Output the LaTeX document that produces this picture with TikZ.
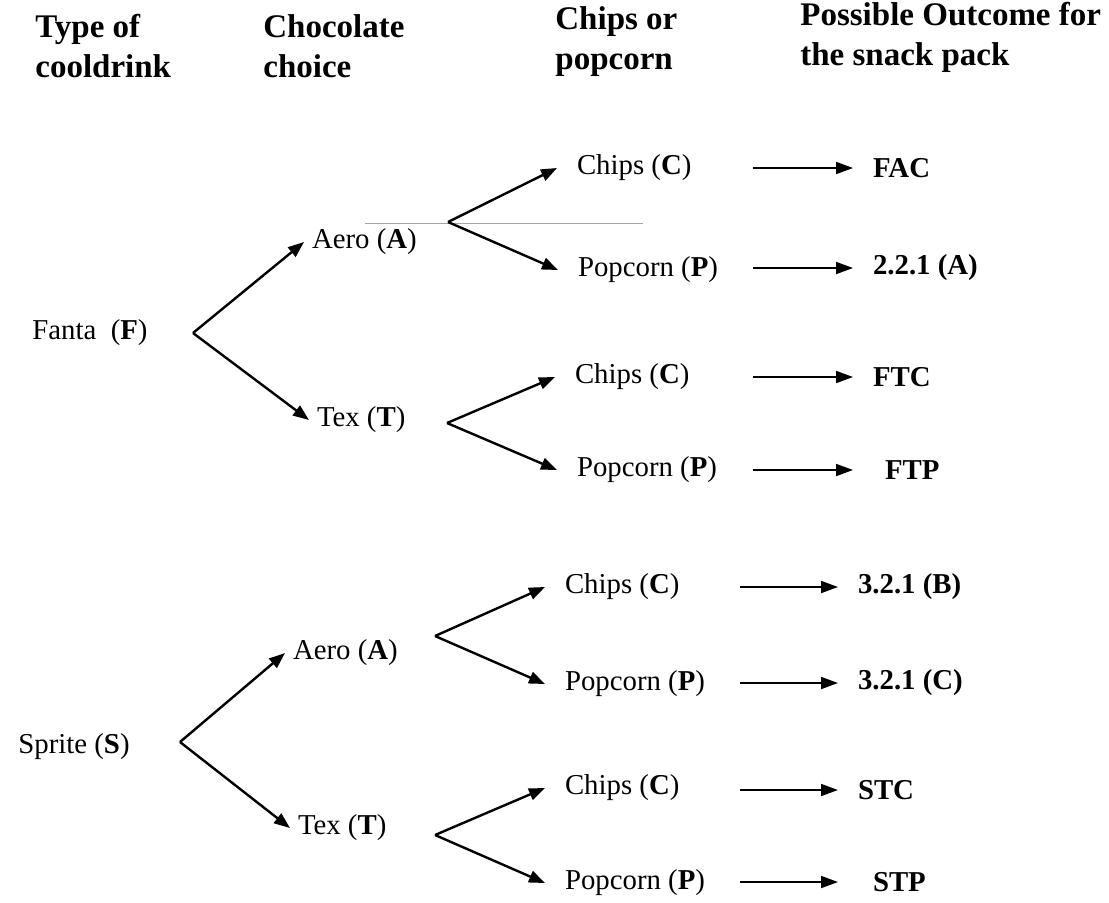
\documentclass[tikz,border=0pt]{standalone}
\usepackage{fontspec}
\setmainfont{Liberation Serif}
\usetikzlibrary{arrows.meta}

\begin{document}
\fontsize{14.4}{17}\selectfont
\begin{tikzpicture}[x=0.5pt,y=-0.5pt,
  head/.style={anchor=north west,align=left,inner sep=0pt,font=\fontsize{16.5}{20}\selectfont\bfseries},
  drink/.style={anchor=west,inner sep=0pt},
  choc/.style={anchor=west,inner sep=0pt,outer sep=4pt},
  snack/.style={anchor=west,inner sep=0pt,outer sep=10pt},
  outc/.style={anchor=west,inner sep=0pt,outer sep=10pt,font=\bfseries},
  branch/.style={line width=1.2pt,-{Triangle[length=8pt,width=6pt]}},
  result/.style={line width=0.9pt,-{Triangle[length=8.5pt,width=6pt]}}]
\useasboundingbox (0,0) rectangle (1109,902);
\node[head] (hdrink) at (35,14) {Type of\\cooldrink};
\node[head] (hchoc) at (263,14) {Chocolate\\choice};
\node[head] (hsnack) at (555,6) {Chips or\\popcorn};
\node[head] (hout) at (800,2) {Possible Outcome for\\the snack pack};
\draw[gray!70,line width=0.5pt] (365,223) -- (643,223);
\node[drink] (F) at (32,333) {Fanta\ \ (\textbf{F})};
\coordinate (bF) at (193,333);
\node[choc] (FA) at (304,242) {Aero (\textbf{A})};
\node[choc] (FT) at (309,420) {Tex (\textbf{T})};
\coordinate (bFA) at (448,222);
\coordinate (bFT) at (447,423);
\node[snack] (FAC) at (557,168) {Chips (\textbf{C})};
\node[snack] (FAP) at (558,270) {Popcorn (\textbf{P})};
\node[snack] (FTC) at (555,377) {Chips (\textbf{C})};
\node[snack] (FTP) at (557,470) {Popcorn (\textbf{P})};
\draw[branch] (bF) -- (FA.west);
\draw[branch] (bF) -- (FT.west);
\draw[branch] (bFA) -- (FAC.west);
\draw[branch] (bFA) -- (FAP.west);
\draw[branch] (bFT) -- (FTC.west);
\draw[branch] (bFT) -- (FTP.west);
\coordinate (sFAC) at (753,168);
\coordinate (sFAP) at (753,268);
\coordinate (sFTC) at (753,377);
\coordinate (sFTP) at (753,470);
\node[outc] (oFAC) at (853,168) {FAC};
\node[outc] (oFAP) at (853,268) {2.2.1 (A)};
\node[outc] (oFTC) at (853,377) {FTC};
\node[outc,outer xsep=16pt] (oFTP) at (853,470) {FTP};
\draw[result] (sFAC) -- (oFAC.west);
\draw[result] (sFAP) -- (oFAP.west);
\draw[result] (sFTC) -- (oFTC.west);
\draw[result] (sFTP) -- (oFTP.west);
\node[drink] (S) at (18,747) {Sprite (\textbf{S})};
\coordinate (bS) at (180,742);
\node[choc] (SA) at (285,653) {Aero (\textbf{A})};
\node[choc] (ST) at (290,828) {Tex (\textbf{T})};
\coordinate (bSA) at (435,636);
\coordinate (bST) at (435,835);
\node[snack] (SAC) at (545,587) {Chips (\textbf{C})};
\node[snack] (SAP) at (545,684) {Popcorn (\textbf{P})};
\node[snack] (STC) at (545,788) {Chips (\textbf{C})};
\node[snack] (STP) at (545,883) {Popcorn (\textbf{P})};
\draw[branch] (bS) -- (SA.west);
\draw[branch] (bS) -- (ST.west);
\draw[branch] (bSA) -- (SAC.west);
\draw[branch] (bSA) -- (SAP.west);
\draw[branch] (bST) -- (STC.west);
\draw[branch] (bST) -- (STP.west);
\coordinate (sSAC) at (740,587);
\coordinate (sSAP) at (740,683);
\coordinate (sSTC) at (740,790);
\coordinate (sSTP) at (740,882);
\node[outc] (oSAC) at (838,587) {3.2.1 (B)};
\node[outc] (oSAP) at (838,683) {3.2.1 (C)};
\node[outc] (oSTC) at (838,790) {STC};
\node[outc,outer xsep=17.5pt] (oSTP) at (838,882) {STP};
\draw[result] (sSAC) -- (oSAC.west);
\draw[result] (sSAP) -- (oSAP.west);
\draw[result] (sSTC) -- (oSTC.west);
\draw[result] (sSTP) -- (oSTP.west);
\end{tikzpicture}
\end{document}
